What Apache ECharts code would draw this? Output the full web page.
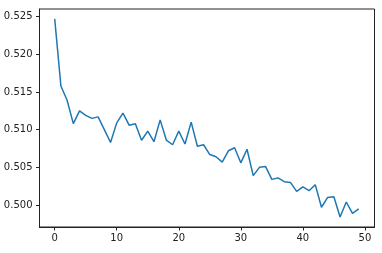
<!DOCTYPE html>
<html>
<head>
<meta charset="utf-8">
<script src="https://cdn.jsdelivr.net/npm/echarts@6/dist/echarts.min.js"></script>
<style>
html,body{margin:0;padding:0;background:#fff;}
#chart{width:382px;height:253px;}
</style>
</head>
<body>
<div id="chart"></div>
<script>
const xValues = [0,1,2,3,4,5,6,7,8,9,10,11,12,13,14,15,16,17,18,19,20,21,22,23,24,25,26,27,28,29,30,31,32,33,34,35,36,37,38,39,40,41,42,43,44,45,46,47,48,49];
const yValues = [0.5247,0.5158,0.5139,0.5108,0.5125,0.5119,0.5115,0.5117,0.5100,0.5083,
                 0.5109,0.5122,0.5106,0.5108,0.5086,0.5098,0.5084,0.5113,0.5086,0.5080,
                 0.5098,0.5081,0.5110,0.5078,0.5080,0.5067,0.5064,0.5057,0.5072,0.5076,
                 0.5056,0.5074,0.5039,0.5050,0.5051,0.5034,0.5036,0.5031,0.5030,0.5018,
                 0.5024,0.5019,0.5027,0.4997,0.5010,0.5011,0.4984,0.5004,0.4989,0.4995];
const xTicks = [0,10,20,30,40,50];
const yTicks = [0.500,0.505,0.510,0.515,0.520,0.525];

const chart = echarts.init(document.getElementById('chart'), null, {renderer:'canvas'});
const font = 'DejaVu Sans';
chart.setOption({
  animation:false,
  grid:{left:39.5,right:7.5,top:9,bottom:26,show:true,borderColor:'#222',borderWidth:1,containLabel:false},
  xAxis:{
    type:'value', min:-2.45, max:51.55,
    splitLine:{show:false},
    axisLine:{show:true,onZero:false,lineStyle:{color:'#222',width:1}},
    axisTick:{show:true,length:3.5,inside:false,customValues:xTicks,lineStyle:{color:'#222'}},
    axisLabel:{customValues:xTicks,color:'#222',fontFamily:font,fontSize:10,margin:6}
  },
  yAxis:{
    type:'value', min:0.49708, max:0.52602,
    splitLine:{show:false},
    axisLine:{show:true,onZero:false,lineStyle:{color:'#222',width:1}},
    axisTick:{show:true,length:3.5,inside:false,customValues:yTicks,lineStyle:{color:'#222'}},
    axisLabel:{customValues:yTicks,color:'#222',fontFamily:font,fontSize:10,margin:7,
      formatter:v=>v.toFixed(3)}
  },
  series:[{
    type:'line',
    data:xValues.map((x,i)=>[x,yValues[i]]),
    showSymbol:false,
    lineStyle:{color:'#1f77b4',width:1.5},
    itemStyle:{color:'#1f77b4'}
  }]
});
</script>
</body>
</html>
